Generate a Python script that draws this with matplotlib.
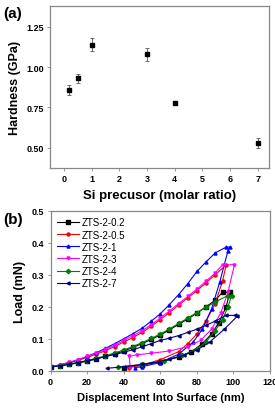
import numpy as np
import matplotlib as mpl
mpl.use("Agg")
from matplotlib import pyplot as plt

plt.rcParams['font.family'] = ['Liberation Sans', 'DejaVu Sans']

# (a) hardness vs Si precursor
si_ratio = [0.2, 0.5, 1, 3, 4, 7]
hardness = [0.86, 0.93, 1.14, 1.08, 0.78, 0.53]
hardness_err = [0.03, 0.03, 0.04, 0.04, 0.01, 0.03]

# (b) load-displacement curves: loading branch, hold, unloading branch
names = ['ZTS-2-0.2', 'ZTS-2-0.5', 'ZTS-2-1', 'ZTS-2-3', 'ZTS-2-4', 'ZTS-2-7']

d_02 = [0, 5, 10, 15, 20, 25, 30, 35, 40, 45, 50, 55, 60, 65, 70, 75, 80, 85, 90, 94,
        98, 96, 92, 88, 83, 77, 70, 60, 50, 40]
p_02 = [0.012, 0.016, 0.020, 0.025, 0.030, 0.037, 0.045, 0.053, 0.062, 0.073, 0.085, 0.098, 0.112, 0.128, 0.145, 0.162, 0.180, 0.200, 0.220, 0.245,
        0.245, 0.200, 0.150, 0.115, 0.085, 0.060, 0.043, 0.028, 0.018, 0.010]

d_05 = [0, 5, 10, 15, 20, 25, 30, 35, 40, 45, 50, 55, 60, 65, 70, 75, 80, 85, 90, 96,
        94, 90, 85, 80, 75, 70, 60, 50, 43]
p_05 = [0.012, 0.018, 0.025, 0.033, 0.042, 0.052, 0.063, 0.076, 0.090, 0.104, 0.120, 0.139, 0.160, 0.182, 0.205, 0.228, 0.250, 0.275, 0.300, 0.330,
        0.280, 0.210, 0.155, 0.115, 0.085, 0.060, 0.035, 0.018, 0.010]

d_1 = [0, 5, 10, 15, 20, 25, 30, 35, 40, 45, 50, 55, 60, 65, 70, 75, 80, 85, 90, 96,
       98, 97, 92.5, 88, 83, 78, 70, 60, 50, 46]
p_1 = [0.012, 0.018, 0.025, 0.034, 0.045, 0.057, 0.070, 0.085, 0.100, 0.116, 0.133, 0.155, 0.178, 0.207, 0.238, 0.272, 0.310, 0.340, 0.368, 0.386,
       0.386, 0.375, 0.277, 0.193, 0.130, 0.090, 0.052, 0.026, 0.013, 0.010]

d_3 = [0, 5, 10, 15, 20, 25, 30, 35, 40, 45, 50, 55, 60, 65, 70, 75, 80, 85, 90, 94,
       100.5, 97, 93, 88, 82, 75, 65, 55, 47, 43, 43.5]
p_3 = [0.012, 0.019, 0.027, 0.035, 0.045, 0.055, 0.067, 0.080, 0.095, 0.110, 0.125, 0.144, 0.165, 0.187, 0.210, 0.232, 0.255, 0.280, 0.305, 0.331,
       0.331, 0.245, 0.180, 0.130, 0.095, 0.075, 0.062, 0.055, 0.050, 0.045, 0.012]

d_4 = [0, 5, 10, 15, 20, 25, 30, 35, 40, 45, 50, 55, 60, 65, 70, 75, 80, 85, 90, 97,
       99, 97, 94, 90, 85, 80, 72, 62, 50, 37]
p_4 = [0.012, 0.016, 0.021, 0.026, 0.032, 0.039, 0.047, 0.056, 0.065, 0.076, 0.088, 0.101, 0.115, 0.131, 0.148, 0.165, 0.182, 0.198, 0.215, 0.235,
       0.235, 0.200, 0.160, 0.125, 0.090, 0.068, 0.048, 0.032, 0.020, 0.012]

d_7 = [0, 5, 10, 15, 20, 25, 30, 35, 40, 45, 50, 55, 60, 65, 70, 75, 80, 85, 90, 96,
       101, 102, 95, 87, 80, 73, 65, 58.6, 50, 40, 31]
p_7 = [0.012, 0.016, 0.020, 0.026, 0.032, 0.038, 0.045, 0.051, 0.058, 0.066, 0.075, 0.085, 0.095, 0.102, 0.110, 0.120, 0.130, 0.142, 0.155, 0.173,
       0.173, 0.170, 0.130, 0.090, 0.065, 0.049, 0.036, 0.028, 0.020, 0.013, 0.008]

displacement = [d_02, d_05, d_1, d_3, d_4, d_7]
load = [p_02, p_05, p_1, p_3, p_4, p_7]
colors = ['black', 'red', 'blue', 'magenta', 'green', 'navy']
markers = ['s', 'o', '^', 'v', 'D', '<']

grey = '#888888'

f = plt.figure(figsize=(2.75, 4.1), dpi=100)

# 面板 (a)
ax1 = f.add_axes([0.182, 0.588, 0.796, 0.395])
ax1.errorbar(si_ratio, hardness, yerr=hardness_err, fmt='s', color='black',
             markersize=3.5, ecolor='#555555', elinewidth=0.6, capsize=1.5, capthick=0.6)
ax1.set_xlim(-0.5, 7.4)
ax1.set_ylim(0.375, 1.38)
ax1.set_xticks(range(0, 8))
ax1.set_yticks([0.50, 0.75, 1.00, 1.25])
ax1.set_yticklabels(['0.50', '0.75', '1.00', '1.25'])
ax1.set_xlabel('Si precusor (molar ratio)', fontsize=9.5, fontweight='bold', labelpad=4)
ax1.set_ylabel('Hardness (GPa)', fontsize=9, fontweight='bold', labelpad=4)
ax1.text(-0.215, 1.0, '(a)', transform=ax1.transAxes, fontsize=11, fontweight='bold', va='top')

# 面板 (b)
ax2 = f.add_axes([0.184, 0.093, 0.798, 0.391])
for i in range(len(names)):
    ax2.plot(displacement[i], load[i], color=colors[i], marker=markers[i],
             markersize=2.2, linewidth=0.8, label=names[i])
ax2.set_xlim(0, 120)
ax2.set_ylim(0, 0.5)
ax2.set_xticks([0, 20, 40, 60, 80, 100, 120])
ax2.set_yticks([0.0, 0.1, 0.2, 0.3, 0.4, 0.5])
ax2.set_xlabel('Displacement Into Surface (nm)', fontsize=8, fontweight='bold', labelpad=4)
ax2.set_ylabel('Load (mN)', fontsize=9, fontweight='bold', labelpad=4)
ax2.text(-0.215, 0.99, '(b)', transform=ax2.transAxes, fontsize=11, fontweight='bold', va='top')
leg = ax2.legend(loc='upper left', frameon=False, fontsize=7, handlelength=2.2,
                 handletextpad=0.3, labelspacing=0.22, borderaxespad=0.3)

for ax in [ax1, ax2]:
    for s in ax.spines.values():
        s.set_color(grey)
        s.set_linewidth(0.9)
    ax.tick_params(direction='out', length=2.5, width=0.6, color=grey, labelsize=6.5, pad=2)
    for lab in ax.get_xticklabels() + ax.get_yticklabels():
        lab.set_fontweight('bold')

f.savefig('out.png', dpi=100)
